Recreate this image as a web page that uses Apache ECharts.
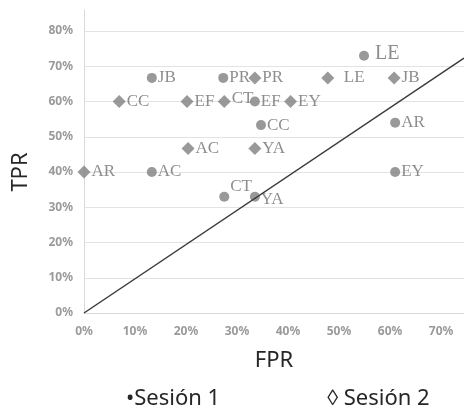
<!DOCTYPE html>
<html>
<head>
<meta charset="utf-8">
<title>TPR vs FPR</title>
<script src="https://cdn.jsdelivr.net/npm/echarts@6/dist/echarts.min.js"></script>
<style>
    html, body { margin: 0; padding: 0; background: #fff; }
    #chart { width: 464px; height: 405px; }
</style>
</head>
<body>
<div id="chart"></div>
<script>
// Sesion 1 (circulos)
var s1Names = ["JB", "PR", "LE", "EF", "CC", "AR", "AC", "EY", "CT", "YA"];
var s1Fpr = [0.133, 0.273, 0.549, 0.335, 0.347, 0.61, 0.133, 0.61, 0.275, 0.335];
var s1Tpr = [0.667, 0.667, 0.73, 0.60, 0.533, 0.54, 0.40, 0.40, 0.33, 0.33];

// Sesion 2 (rombos)
var s2Names = ["CC", "EF", "CT", "EY", "PR", "LE", "JB", "AC", "YA", "AR"];
var s2Fpr = [0.069, 0.202, 0.275, 0.405, 0.335, 0.478, 0.608, 0.204, 0.335, 0.0];
var s2Tpr = [0.60, 0.60, 0.60, 0.60, 0.667, 0.667, 0.667, 0.467, 0.467, 0.40];

// linea diagonal de referencia
var diagFpr = [0, 0.745];
var diagTpr = [0, 0.723];

var xMax = 0.745;
var yMax = 0.8;

var labelFont = "'Liberation Serif', 'DejaVu Serif', serif";
var sansFont = "'Noto Sans', 'Liberation Sans', sans-serif";
var markColor = "#808080";

function buildPoints(names, xs, ys, special) {
    var out = [];
    for (var i = 0; i < names.length; ++i) {
        var p = { value: [xs[i], ys[i]], name: names[i] };
        if (special[names[i]]) {
            p.label = special[names[i]];
        }
        out.push(p);
    }
    return out;
}

function pct(v) {
    var r = Math.round(v * 100);
    if (Math.abs(v * 10 - Math.round(v * 10)) > 0.001) {
        return "";
    }
    return r + "%";
}

var chart = echarts.init(document.getElementById("chart"));

var s1Special = {
    "LE": { fontSize: 20, formatter: " {b}", offset: [0, -2] },
    "CT": { offset: [0, -10] },
    "YA": { offset: [0, 3] }
};
var s2Special = {
    "LE": { formatter: "  {b}" },
    "CT": { offset: [0, -3] }
};

var option = {
    animation: false,
    grid: [
        { left: 84, right: 0, top: 31, bottom: 92 },
        { left: 84, right: 0, top: 10, bottom: 92 }
    ],
    legend: {
        data: ["Sesión 1", "Sesión 2"],
        left: 116,
        top: 383,
        icon: "none",
        itemWidth: 0,
        itemHeight: 0,
        itemGap: 102,
        selectedMode: false,
        formatter: function (name) {
            return name == "Sesión 1" ? "•Sesión 1" : "◊ Sesión 2";
        },
        textStyle: { fontFamily: sansFont, fontSize: 22, color: "#262626" }
    },
    xAxis: [
        {
            type: "value",
            min: 0,
            max: xMax,
            interval: 0.1,
            name: "FPR",
            nameLocation: "middle",
            nameGap: 37,
            nameTextStyle: { fontFamily: sansFont, fontSize: 22, color: "#262626" },
            axisLine: { show: true, lineStyle: { color: "#d9d9d9", width: 1 } },
            axisTick: { show: false },
            splitLine: { show: false },
            axisLabel: {
                showMaxLabel: false,
                margin: 13,
                fontFamily: sansFont,
                fontSize: 12,
                fontWeight: "bold",
                color: "#9a9a9a",
                formatter: pct
            }
        },
        { type: "value", gridIndex: 1, show: false, min: 0, max: xMax }
    ],
    yAxis: [
        {
            type: "value",
            min: 0,
            max: yMax,
            interval: 0.1,
            name: "TPR",
            nameLocation: "middle",
            nameGap: 52,
            nameTextStyle: { fontFamily: sansFont, fontSize: 22, color: "#262626" },
            axisLine: { show: true, lineStyle: { color: "#d9d9d9", width: 1 } },
            axisTick: { show: false },
            splitLine: { show: true, lineStyle: { color: "#e3e3e3", width: 1 } },
            axisLabel: {
                margin: 11,
                fontFamily: sansFont,
                fontSize: 12,
                fontWeight: "bold",
                color: "#9a9a9a",
                formatter: pct
            }
        },
        {
            type: "value",
            gridIndex: 1,
            min: 0,
            max: 1,
            axisLine: { show: true, lineStyle: { color: "#d9d9d9", width: 1 } },
            axisTick: { show: false },
            axisLabel: { show: false },
            splitLine: { show: false }
        }
    ],
    series: [
        {
            name: "diagonal",
            type: "line",
            data: [[diagFpr[0], diagTpr[0]], [diagFpr[1], diagTpr[1]]],
            symbol: "none",
            silent: true,
            lineStyle: { color: "#3a3a3a", width: 1.5 },
            z: 3
        },
        {
            name: "Sesión 1",
            type: "scatter",
            symbol: "circle",
            symbolSize: 10,
            itemStyle: { color: markColor },
            data: buildPoints(s1Names, s1Fpr, s1Tpr, s1Special),
            label: {
                show: true,
                position: "right",
                distance: 1,
                formatter: "{b}",
                fontFamily: labelFont,
                fontSize: 17,
                color: "#707070"
            },
            z: 2
        },
        {
            name: "Sesión 2",
            type: "scatter",
            symbol: "diamond",
            symbolSize: 13,
            itemStyle: { color: markColor },
            data: buildPoints(s2Names, s2Fpr, s2Tpr, s2Special),
            label: {
                show: true,
                position: "right",
                distance: 1,
                formatter: "{b}",
                fontFamily: labelFont,
                fontSize: 17,
                color: "#707070"
            },
            z: 2
        }
    ]
};
chart.setOption(option);
</script>
</body>
</html>
